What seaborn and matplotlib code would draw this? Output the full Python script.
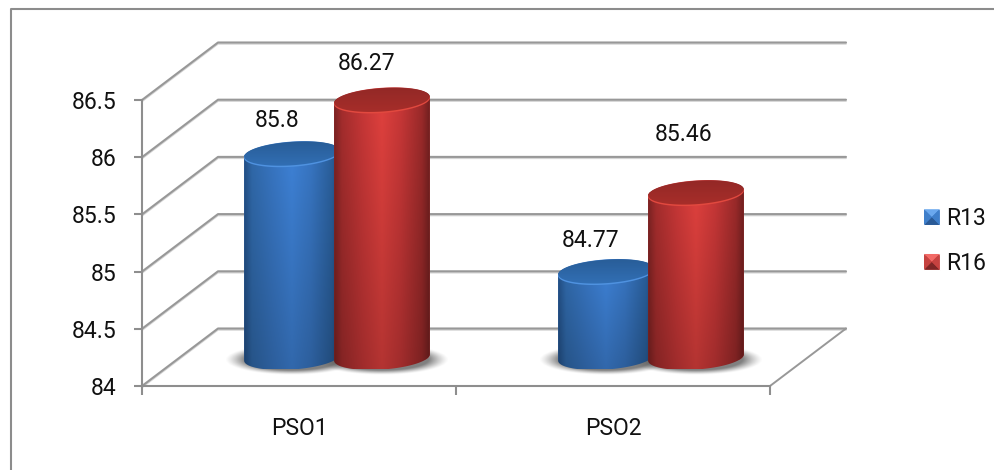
import numpy as np
import pandas as pd
import matplotlib
matplotlib.use("Agg")
import matplotlib.pyplot as plt
from matplotlib.lines import Line2D
from matplotlib.patches import Polygon
from matplotlib.path import Path
from matplotlib.transforms import Affine2D, IdentityTransform
import seaborn as sns

# Chart values
categories = ["PSO1", "PSO2"]
r13_values = [85.8, 84.77]
r16_values = [86.27, 85.46]
series_names = ["R13", "R16"]
y_ticks = [84, 84.5, 85, 85.5, 86, 86.5]
y_tick_labels = ["84", "84.5", "85", "85.5", "86", "86.5"]

W, H = 995, 470
GRID = "#8e8e8e"
TEXT = "#111111"

sns.set_style("white")
plt.rcParams["font.family"] = ["Roboto", "DejaVu Sans"]
FS = 16.5

fig = plt.figure(figsize=(W / 100, H / 100), dpi=100, facecolor="white")
ax = fig.add_axes([142 / W, (H - 386) / H, 628 / W, 286 / H])
ax.set_autoscale_on(True)

df = pd.DataFrame({
    "group": categories * 2,
    "score": r13_values + r16_values,
    "series": [series_names[0]] * 2 + [series_names[1]] * 2,
})
sns.barplot(data=df, x="group", y="score", hue="series", palette=["#3c7dcf", "#c93c3a"],
            width=0.573, gap=-0.067, saturation=1, ax=ax, legend=True, errorbar=None)

ax.set_xlim(-0.5, 1.5)
ax.set_ylim(84, 86.5)
ax.set_autoscale_on(False)
ax.patch.set_alpha(0)
ax.set_xlabel("")
ax.set_ylabel("")
sns.despine(ax=ax)

# Front-plane axes
for side in ("left", "bottom"):
    ax.spines[side].set_color(GRID)
    ax.spines[side].set_linewidth(1.5)
ax.set_yticks(y_ticks, y_tick_labels, fontsize=FS, color=TEXT)
ax.set_xticks([0, 1], categories, fontsize=FS, color=TEXT)
ax.set_xticks([-0.5, 0.5, 1.5], minor=True)
ax.tick_params(axis="y", length=6, width=1.5, color=GRID, pad=12, left=True)
ax.tick_params(axis="x", which="major", length=0, pad=22, bottom=False)
ax.tick_params(axis="x", which="minor", length=6.5, width=1.5, color=GRID, bottom=True)

# Back wall and side wall, offset from the front plane by the chart depth
DEPTH = np.array([76.0, 57.5])
to_px = ax.transData.transform
pixel = IdentityTransform()
for v in y_ticks:
    a = to_px((-0.5, v))
    b = a + DEPTH
    c = to_px((1.5, v)) + DEPTH
    for off, col, lw in ((-1.3, "#d4d4d4", 1.3), (0, "#989898", 1.5)):
        ax.add_line(Line2D([a[0], b[0], c[0]], [a[1] + off, b[1] + off, c[1] + off], color=col, lw=lw,
                           transform=pixel, clip_on=False, zorder=0.5))
fr = to_px((1.5, 84))
ax.add_line(Line2D([fr[0], fr[0] + DEPTH[0]], [fr[1], fr[1] + DEPTH[1]], color="#989898", lw=1.4,
                   transform=pixel, clip_on=False, zorder=0.5))


def profile(stops, w, h, fade):
    """Horizontal cylinder shading that darkens towards the base."""
    s = np.linspace(0, 1, w)
    pos = [0, 0.08, 0.3, 0.5, 0.7, 0.92, 1]
    row = np.stack([np.interp(s, pos, [c[i] for c in stops]) for i in range(3)], axis=1)
    k = np.linspace(fade, 1, h)[:, None, None]
    return np.clip(row[None, :, :] * k / 255, 0, 1)


def image(arr, box, z, clip=None):
    im = ax.imshow(arr, extent=box, origin="lower", aspect="auto", transform=pixel,
                   interpolation="bilinear", zorder=z)
    im.set_clip_box(fig.bbox)
    if clip is not None:
        im.set_clip_path(clip, pixel)
    return im


def arc(center, a, b, t0, t1, n=60, tilt=np.deg2rad(4.0)):
    t = np.linspace(t0, t1, n)
    x, y = a * np.cos(t), b * np.sin(t)
    return np.column_stack([center[0] + x * np.cos(tilt) - y * np.sin(tilt),
                            center[1] + x * np.sin(tilt) + y * np.cos(tilt)])


BODY = [
    [(35, 80, 135), (48, 105, 170), (56, 118, 195), (62, 130, 215), (56, 118, 195), (42, 95, 155), (32, 72, 120)],
    [(125, 35, 35), (165, 45, 45), (200, 55, 55), (225, 65, 62), (200, 55, 55), (155, 42, 42), (115, 32, 32)],
]
CAP_DARK = [(40, 92, 150), (146, 40, 38)]
CAP_LIGHT = [(50, 112, 182), (168, 46, 42)]
RIM = ["#4f92e0", "#e2493f"]

depth_tf = ax.transData + Affine2D().translate(38, 26.5)
BASE_LIFT = 2.0
B = 12.0

for i, container in enumerate(ax.containers):
    for j, bar in enumerate(container):
        value = bar.get_height()
        bar.set_y(84)
        bar.set_height(value - 84)
        bar.set_transform(depth_tf)
        bar.set_edgecolor("none")
        z = 2 + i + j * 3

        x_mid = bar.get_x() + bar.get_width() / 2
        top = depth_tf.transform((x_mid, value))
        base = depth_tf.transform((x_mid, 84)) + [0, BASE_LIFT]
        half = (depth_tf.transform((bar.get_x() + bar.get_width(), 84))[0]
                - depth_tf.transform((bar.get_x(), 84))[0]) / 2

        # Soft contact shadow on the floor
        sx, sy = half + 19, 15.5
        gx, gy = np.meshgrid(np.linspace(-1, 1, 240), np.linspace(-1, 1, 80))
        r = np.hypot(gx, gy)
        shade = np.zeros(r.shape + (4,))
        shade[..., :3] = 0.38
        shade[..., 3] = np.clip((1 - r) / 0.3, 0, 1) ** 1.3 * 0.8
        image(shade, (base[0] - sx, base[0] + sx, base[1] - 2 - sy, base[1] - 2 + sy), 1 + j)

        # Cylinder silhouette: front of the base, back of the top
        outline = np.vstack([arc(base, half, B, np.pi, 2 * np.pi), arc(top, half, B, 0, np.pi)])
        outline = np.vstack([outline, outline[:1]])
        silhouette = Path(outline, closed=True)
        bar.set_clip_box(fig.bbox)
        bar.set_clip_path(silhouette, pixel)
        bar.set_zorder(z)
        body = profile(BODY[i], 120, 120, 0.8)
        image(body, (top[0] - half, top[0] + half, base[1] - B, top[1] + B), z + 0.1, silhouette)

        # Top cap with a bright front rim
        rim = arc(top - [0, 1.2], half, B, 0, 2 * np.pi, 90)
        ax.add_patch(Polygon(rim, closed=True, facecolor=RIM[i], edgecolor="none", transform=pixel,
                             clip_on=False, zorder=z + 0.2))
        cap = Path(arc(top, half - 0.3, B - 0.3, 0, 2 * np.pi, 90), closed=True)
        k = np.linspace(0, 1, 40)[:, None, None]
        cap_rgb = (np.array(CAP_LIGHT[i])[None, None, :] * (1 - k) + np.array(CAP_DARK[i])[None, None, :] * k) / 255
        image(np.repeat(cap_rgb, 4, axis=1), (top[0] - half, top[0] + half, top[1] - B - 2, top[1] + B + 2),
              z + 0.3, cap)

# Value labels, positioned by hand as on a spreadsheet chart
label_offsets = {(0, 0): (-15, 33), (1, 0): (-15, 36), (0, 1): (-15, 31), (1, 1): (-12, 58)}
for i, container in enumerate(ax.containers):
    values = [r13_values, r16_values][i]
    for j, bar in enumerate(container):
        x_mid = bar.get_x() + bar.get_width() / 2
        ax.annotate(str(values[j]), xy=(x_mid, values[j]), xycoords=depth_tf,
                    xytext=label_offsets[(i, j)], textcoords="offset pixels",
                    ha="center", va="center", fontsize=FS, color=TEXT, zorder=20, annotation_clip=False)

# Legend with bevelled swatches
legend = ax.legend(loc="center left", bbox_to_anchor=(924 / W, (H - 241) / H), bbox_transform=fig.transFigure,
                   frameon=False, fontsize=FS, handlelength=0.68, handleheight=0.68, handletextpad=0.28,
                   labelspacing=0.95, borderpad=0, borderaxespad=0)
for text in legend.get_texts():
    text.set_color(TEXT)

fig.canvas.draw()
BEVEL = [("#6aa8ee", "#3f7fca", "#2a5a96"), ("#f26a66", "#c64240", "#7e2626")]
for i, handle in enumerate(legend.get_patches()):
    e = handle.get_window_extent()
    x0, x1, y0, y1 = e.x0, e.x1, e.y0, e.y1
    cx, cy = (x0 + x1) / 2, (y0 + y1) / 2
    upper, mid, lower = BEVEL[i]
    tris = [([(x0, y1), (x1, y1), (cx, cy)], upper), ([(x0, y0), (x1, y0), (cx, cy)], lower),
            ([(x0, y0), (x0, y1), (cx, cy)], mid), ([(x1, y0), (x1, y1), (cx, cy)], mid)]
    for pts, col in tris:
        fig.add_artist(Polygon(pts, closed=True, facecolor=col, edgecolor="none", transform=pixel, zorder=30))

# Chart-area border along the left and top edges
fig.add_artist(Line2D([11.5 / W, 11.5 / W, 1], [0, (H - 8.5) / H, (H - 8.5) / H], color="#8c8c8c", lw=1.5))

fig.savefig("out.png", dpi=100)
